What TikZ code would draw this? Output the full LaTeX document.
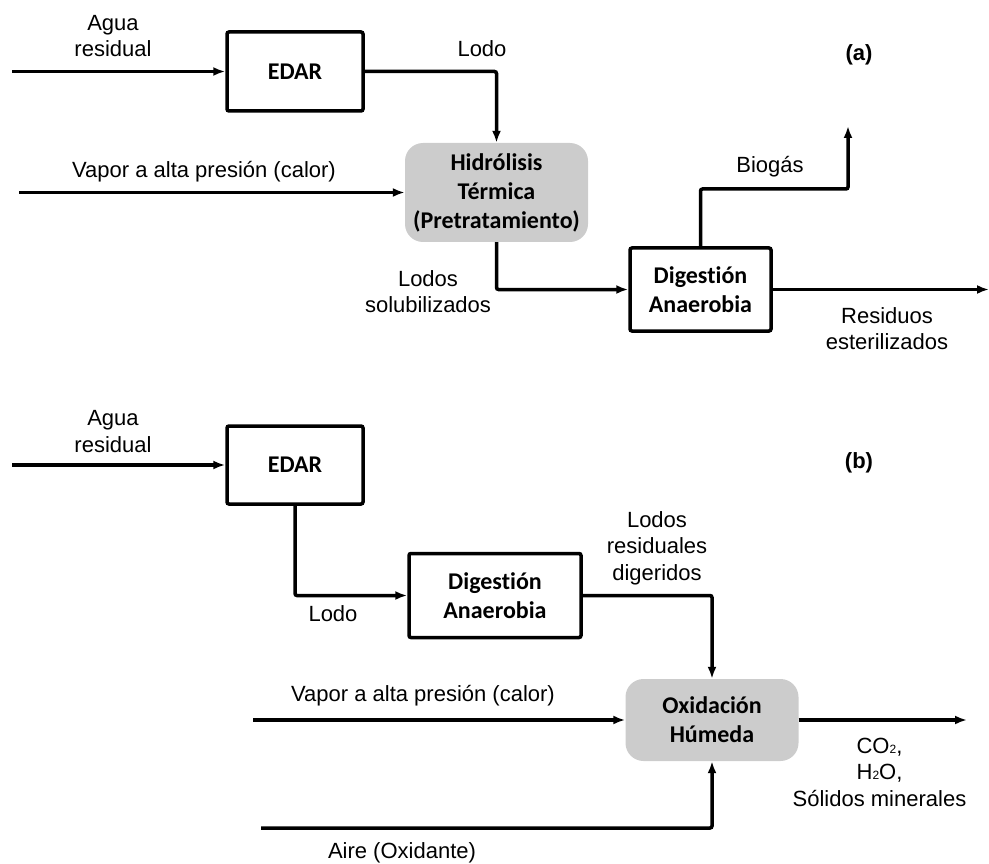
\documentclass[tikz,border=0pt]{standalone}
\usepackage{fontspec}
\setmainfont{Liberation Sans}
\newfontfamily\boxfont[Ligatures=NoCommon]{Carlito}
\usetikzlibrary{arrows.meta}
\definecolor{boxgray}{RGB}{204,204,204}
\begin{document}
\begin{tikzpicture}[x=1pt,y=-1pt,
  flow/.style={line width=3.5pt,-{Latex[length=12pt,width=9pt]}},
  plainbox/.style={draw,line width=3.5pt,rounded corners=2pt,align=center,
    font=\boxfont\bfseries\fontsize{24}{29}\selectfont,inner sep=0pt},
  graybox/.style={fill=boxgray,rounded corners=18pt,align=center,
    font=\boxfont\bfseries\fontsize{24}{29}\selectfont,inner sep=0pt},
  lbl/.style={align=center,font=\fontsize{22}{26.5}\selectfont,inner sep=0pt},
  tag/.style={font=\bfseries\fontsize{22}{26}\selectfont,inner sep=0pt}]
\useasboundingbox (0,0) rectangle (989,864);

% ---------------- (a) thermal hydrolysis pretreatment ----------------
\node[plainbox,minimum width=136pt,minimum height=79pt] (edarA) at (295,71.5) {EDAR};
\node[graybox,minimum width=183pt,minimum height=99pt] (hidro) at (496.5,192.5)
  {Hidrólisis\\Térmica\\(Pretratamiento)};
\node[plainbox,minimum width=141pt,minimum height=83pt] (digA) at (700.5,289.5)
  {Digestión\\Anaerobia};

\coordinate (inA) at (12,71.5);
\coordinate (vapA) at (19,192.5);
\coordinate (bioMid) at (848,189);
\coordinate (bioEnd) at (848,126);
\coordinate (resEnd) at (989,289.5);

\draw[flow] (inA) -- (edarA.west);
\draw[flow,rounded corners=2pt] (edarA.east) -| (hidro.north);
\draw[flow] (vapA) -- (hidro.west);
\draw[flow,rounded corners=2pt] (hidro.south) |- (digA.west);
\draw[flow,rounded corners=2pt] (digA.north) |- (bioMid) -- (bioEnd);
\draw[flow] (digA.east) -- (resEnd);

\node[lbl] (aguaA) at (113,36) {Agua\\residual};
\node[lbl] (lodoA) at (482,49) {Lodo};
\node[lbl] (vaporA) at (204,172) {Vapor a alta presión (calor)};
\node[lbl] (solub) at (428,291.5) {Lodos\\solubilizados};
\node[lbl] (biogas) at (770,167) {Biogás};
\node[lbl] (resid) at (887,328.5) {Residuos\\esterilizados};
\node[tag] (tagA) at (859,55) {(a)};

% ---------------- (b) wet oxidation of digested sludge ----------------
\node[plainbox,minimum width=136pt,minimum height=78pt] (edarB) at (295,465) {EDAR};
\node[plainbox,minimum width=172pt,minimum height=84pt] (digB) at (495,595.5)
  {Digestión\\Anaerobia};
\node[graybox,minimum width=173pt,minimum height=82pt] (oxi) at (712,720)
  {Oxidación\\Húmeda};

\coordinate (inB) at (12,465);
\coordinate (vapB) at (253,720);
\coordinate (outB) at (967,720);
\coordinate (aireB) at (261,828);

\draw[flow] (inB) -- (edarB.west);
\draw[flow,rounded corners=2pt] (edarB.south) |- (digB.west);
\draw[flow,rounded corners=2pt] (digB.east) -| (oxi.north);
\draw[flow] (vapB) -- (oxi.west);
\draw[flow] (oxi.east) -- (outB);
\draw[flow,rounded corners=2pt] (aireB) -| (oxi.south);

\node[lbl] (aguaB) at (113,431.5) {Agua\\residual};
\node[lbl] (lodoB) at (333,614) {Lodo};
\node[lbl] (digerido) at (657,548) {Lodos\\residuales\\digeridos};
\node[lbl] (vaporB) at (423,696) {Vapor a alta presión (calor)};
\node[lbl] (productos) at (879.5,772)
  {CO{\fontsize{12}{12}\selectfont 2},\\H{\fontsize{12}{12}\selectfont 2}O,\\Sólidos minerales};
\node[lbl] (aire) at (402,853) {Aire (Oxidante)};
\node[tag] (tagB) at (859,463) {(b)};
\end{tikzpicture}
\end{document}
